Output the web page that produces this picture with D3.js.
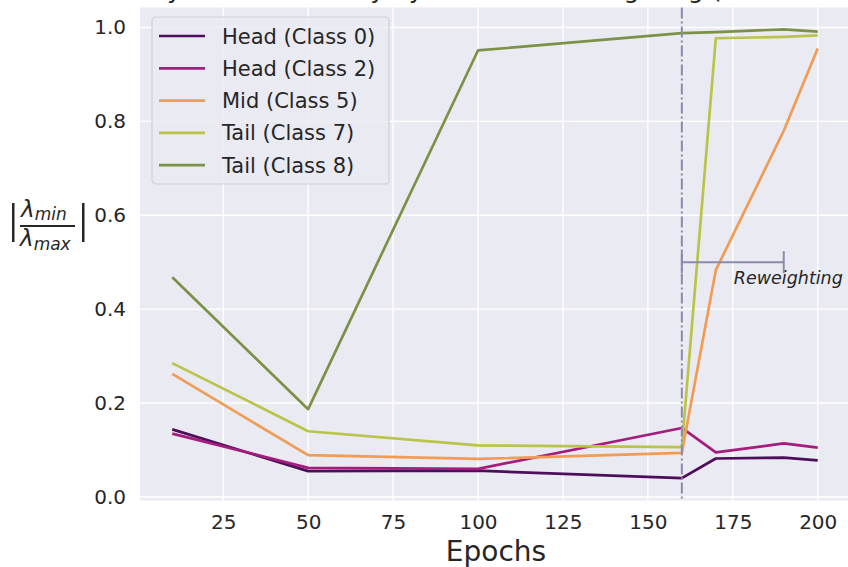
<html>
<head>
<style>
  body { margin: 0; background: #fff; }
  text { font-family: "DejaVu Sans", sans-serif; fill: #262626; }
</style>
</head>
<body>
<svg id="chart"></svg>
<script src="https://cdn.jsdelivr.net/npm/d3@7"></script>
<script>
  // data
  let epochs = [10, 50, 100, 160, 170, 190, 200]
  let head0 = [0.144, 0.055, 0.056, 0.040, 0.082, 0.084, 0.078]
  let head2 = [0.135, 0.062, 0.060, 0.147, 0.095, 0.114, 0.105]
  let mid5 = [0.262, 0.089, 0.081, 0.094, 0.483, 0.780, 0.955]
  let tail7 = [0.285, 0.140, 0.110, 0.106, 0.977, 0.980, 0.983]
  let tail8 = [0.468, 0.187, 0.951, 0.988, 0.990, 0.996, 0.991]
  let seriesNames = ["Head (Class 0)", "Head (Class 2)", "Mid (Class 5)", "Tail (Class 7)", "Tail (Class 8)"]
  let seriesColors = ["#4d0d5a", "#a51d7c", "#f09c55", "#bac449", "#7b9246"]
  let xTicks = [25, 50, 75, 100, 125, 150, 175, 200]
  let yTicks = [0.0, 0.2, 0.4, 0.6, 0.8, 1.0]
  let reweightStart = 160, reweightEnd = 190, reweightLevel = 0.5

  let width = 848, height = 567
  let svg = d3.select("#chart").attr("width", width).attr("height", height)

  let x = d3.scaleLinear().domain([0.5, 209.5]).range([140, 850])
  let y = d3.scaleLinear().domain([-0.0075, 1.0425]).range([500.5, 7.5])

  // title, cut off above the picture (only descenders show)
  svg.append("text")
    .attr("x", 494).attr("y", -2)
    .attr("text-anchor", "middle")
    .style("font-size", "25px")
    .text("Analysis of Sensitivity by Deferred Reweighting (CIFAR-10 LT)")

  // background
  svg.append("rect")
    .attr("x", x.range()[0]).attr("y", y.range()[1])
    .attr("width", x.range()[1] - x.range()[0])
    .attr("height", y.range()[0] - y.range()[1])
    .attr("fill", "#eaeaf2")

  // grid
  svg.append("g").selectAll("line").data(xTicks).enter().append("line")
    .attr("x1", d => x(d)).attr("x2", d => x(d))
    .attr("y1", y.range()[1]).attr("y2", y.range()[0])
    .attr("stroke", "#fff").attr("stroke-width", 1.4)
  svg.append("g").selectAll("line").data(yTicks).enter().append("line")
    .attr("y1", d => y(d)).attr("y2", d => y(d))
    .attr("x1", x.range()[0]).attr("x2", x.range()[1])
    .attr("stroke", "#fff").attr("stroke-width", 1.4)

  // tick labels
  let xAxis = svg.append("g")
    .attr("transform", `translate(0,${y.range()[0]})`)
    .call(d3.axisBottom(x).tickValues(xTicks).tickSize(0).tickPadding(14).tickFormat(d3.format("d")))
  let yAxis = svg.append("g")
    .attr("transform", `translate(${x.range()[0]},0)`)
    .call(d3.axisLeft(y).tickValues(yTicks).tickSize(0).tickPadding(14).tickFormat(d3.format(".1f")))
  for (let ax of [xAxis, yAxis]) {
    ax.select(".domain").remove()
    ax.selectAll("text").style("font-size", "20px").style("font-family", "DejaVu Sans").attr("fill", "#262626")
  }

  // axis labels
  svg.append("text").attr("x", 496).attr("y", 561).attr("text-anchor", "middle")
    .style("font-size", "28px").text("Epochs")

  let yl = svg.append("g")
  yl.append("rect").attr("x", 12).attr("y", 203).attr("width", 2.5).attr("height", 39).attr("fill", "#262626")
  yl.append("rect").attr("x", 82).attr("y", 203).attr("width", 2.5).attr("height", 39).attr("fill", "#262626")
  yl.append("rect").attr("x", 20).attr("y", 225).attr("width", 55).attr("height", 2).attr("fill", "#262626")
  let num = yl.append("text").attr("x", 21).attr("y", 217).style("font-size", "23px").style("font-style", "italic")
  num.append("tspan").text("λ")
  num.append("tspan").style("font-size", "17px").attr("dy", 3).text("min")
  let den = yl.append("text").attr("x", 20).attr("y", 246).style("font-size", "23px").style("font-style", "italic")
  den.append("tspan").text("λ")
  den.append("tspan").style("font-size", "17px").attr("dy", 4).text("max")

  // series lines
  let allSeries = [head0, head2, mid5, tail7, tail8]
  let line = d3.line().x((d, i) => x(epochs[i])).y(d => y(d))
  svg.append("g").selectAll("path").data(allSeries).enter().append("path")
    .attr("d", line)
    .attr("fill", "none")
    .attr("stroke", (d, i) => seriesColors[i])
    .attr("stroke-width", 2.7)
    .attr("stroke-linejoin", "round")

  // reweighting marker
  svg.append("line")
    .attr("x1", x(reweightStart)).attr("x2", x(reweightStart))
    .attr("y1", y.range()[1]).attr("y2", y.range()[0])
    .attr("stroke", "#8a8aaa").attr("stroke-width", 2)
    .attr("stroke-dasharray", "11,3,2,3")
  let br = svg.append("g").attr("stroke", "#8a8aaa").attr("stroke-width", 2)
  br.append("line").attr("x1", x(reweightStart)).attr("x2", x(reweightEnd))
    .attr("y1", y(reweightLevel)).attr("y2", y(reweightLevel))
  for (let e of [reweightStart, reweightEnd]) {
    br.append("line").attr("x1", x(e)).attr("x2", x(e))
      .attr("y1", y(reweightLevel) - 11).attr("y2", y(reweightLevel) + 11)
  }
  svg.append("text").attr("x", x(175.3)).attr("y", 284)
    .style("font-size", "17.5px").style("font-style", "italic").text("Reweighting")

  // legend
  let lg = svg.append("g").attr("transform", "translate(152,17)")
  lg.append("rect").attr("width", 237).attr("height", 167).attr("rx", 4)
    .attr("fill", "#eaeaf2").attr("fill-opacity", 0.8).attr("stroke", "#cfcfd8").attr("stroke-width", 1.2)
  let items = lg.selectAll("g.item").data(seriesNames).enter().append("g")
    .attr("transform", (d, i) => `translate(0,${19 + i * 32.3})`)
  items.append("line").attr("x1", 7).attr("x2", 53)
    .attr("stroke", (d, i) => seriesColors[i]).attr("stroke-width", 2.7)
  items.append("text").attr("x", 70).attr("y", 7.5).style("font-size", "21px").text(d => d)
</script>
</body>
</html>
